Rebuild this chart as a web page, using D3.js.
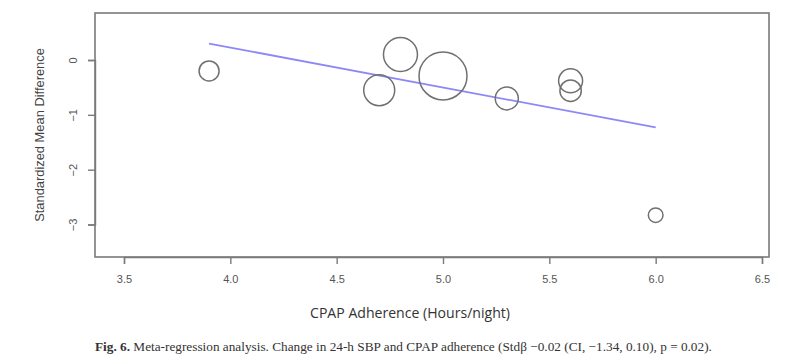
<!DOCTYPE html>
<html>
<head>
<meta charset="utf-8">
<script src="https://cdn.jsdelivr.net/npm/d3@7"></script>
<style>
  html, body { margin: 0; padding: 0; background: #fff; }
  svg { display: block; }
</style>
</head>
<body>
<svg id="chart" width="800" height="364"></svg>
<script>
// ---- data ----
const adherence = [3.9, 4.7, 4.8, 5.0, 5.3, 5.6, 5.6, 6.0];
const smd       = [-0.2, -0.55, 0.1, -0.29, -0.7, -0.38, -0.56, -2.83];
const weight    = [10, 15.5, 17, 24, 11.5, 12, 10.7, 7.3]; // bubble size (relative study weight)
const regX      = [3.9, 6.0];
const regY      = [0.30, -1.23];
const xTicks    = [3.5, 4.0, 4.5, 5.0, 5.5, 6.0, 6.5];
const yTicks    = [0, -1, -2, -3];
const xTitle    = "CPAP Adherence (Hours/night)";
const yTitle    = "Standardized Mean Difference";
const captionBold = "Fig. 6.";
const captionText = " Meta-regression analysis. Change in 24-h SBP and CPAP adherence (Stdβ −0.02 (CI, −1.34, 0.10), p = 0.02).";

// ---- layout ----
const svg = d3.select("#chart");
const box = {left: 95, top: 13, right: 769, bottom: 257};

const x = d3.scaleLinear().domain([3.5, 6.5]).range([124, 762]);
const y = d3.scaleLinear().domain([0, -3]).range([60, 224.5]);
const r = d3.scaleLinear().domain([0, 24]).range([0, 24]);

function fitWidth(sel, target) {
  const node = sel.node();
  const fs = parseFloat(sel.style("font-size"));
  const w = node.getComputedTextLength();
  sel.style("font-size", (fs * target / w) + "px");
}

// box
svg.append("rect")
  .attr("x", box.left).attr("y", box.top)
  .attr("width", box.right - box.left).attr("height", box.bottom - box.top)
  .attr("fill", "none").attr("stroke", "#7a7a7a").attr("stroke-width", 1.6);

// x axis
const xAxis = svg.append("g")
  .attr("transform", `translate(0,${box.bottom})`)
  .call(d3.axisBottom(x).tickValues(xTicks).tickFormat(d3.format(".1f")).tickSize(7).tickPadding(11));
xAxis.select(".domain").attr("stroke", "#7a7a7a").attr("stroke-width", 1.4);
xAxis.selectAll(".tick line").attr("stroke", "#7a7a7a").attr("stroke-width", 1.4);
xAxis.selectAll(".tick text")
  .attr("fill", "#555").style("font-family", "Liberation Sans, Arial, sans-serif").style("font-size", "11px");

// y axis
const yAxis = svg.append("g")
  .attr("transform", `translate(${box.left},0)`)
  .call(d3.axisLeft(y).tickValues(yTicks).tickFormat(d3.format("d")).tickSize(7).tickPadding(12));
yAxis.select(".domain").attr("stroke", "#7a7a7a").attr("stroke-width", 1.4);
yAxis.selectAll(".tick line").attr("stroke", "#7a7a7a").attr("stroke-width", 1.4);
yAxis.selectAll(".tick text")
  .attr("fill", "#555").style("font-family", "Liberation Sans, Arial, sans-serif").style("font-size", "11px")
  .attr("text-anchor", "middle")
  .attr("transform", "rotate(-90)")
  .attr("x", 0).attr("y", -22).attr("dy", "0.35em");

// regression line
svg.append("line")
  .attr("x1", x(regX[0])).attr("y1", y(regY[0]))
  .attr("x2", x(regX[1])).attr("y2", y(regY[1]))
  .attr("stroke", "#8c88f7").attr("stroke-width", 1.8);

// bubbles
const pts = adherence.map((a, i) => ({x: a, y: smd[i], w: weight[i]}));
svg.append("g").selectAll("circle").data(pts).join("circle")
  .attr("cx", d => x(d.x)).attr("cy", d => y(d.y)).attr("r", d => r(d.w))
  .attr("fill", "none").attr("stroke", "#707070").attr("stroke-width", 1.5);

// y title
const yt = svg.append("text")
  .attr("transform", `translate(44,135) rotate(-90)`)
  .attr("text-anchor", "middle")
  .attr("fill", "#444")
  .style("font-family", "Liberation Sans, Arial, sans-serif").style("font-size", "11.5px")
  .text(yTitle);
fitWidth(yt, 174);

// x title
const xt = svg.append("text")
  .attr("x", 410).attr("y", 318)
  .attr("text-anchor", "middle")
  .attr("fill", "#333")
  .style("font-family", "Open Sans, sans-serif").style("font-size", "14px")
  .text(xTitle);
fitWidth(xt, 200);

// caption
const cap = svg.append("text")
  .attr("x", 95).attr("y", 351)
  .attr("fill", "#333")
  .style("font-family", "Liberation Serif, serif").style("font-size", "12px");
cap.append("tspan").attr("font-weight", "bold").text(captionBold);
cap.append("tspan").text(captionText);
fitWidth(cap, 618);
</script>
</body>
</html>
